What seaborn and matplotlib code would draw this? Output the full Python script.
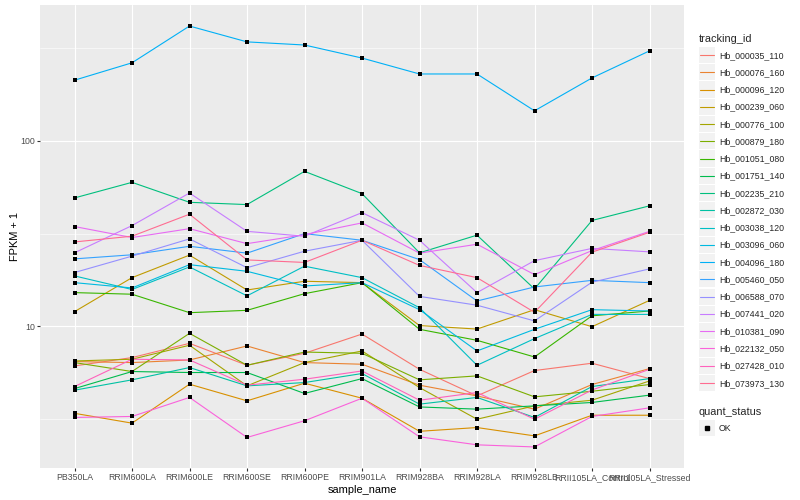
import pandas as pd
import matplotlib
matplotlib.use('Agg')
import matplotlib.pyplot as plt
import matplotlib.ticker as mticker
import numpy as np
import seaborn as sns
from matplotlib.legend_handler import HandlerBase
from matplotlib.patches import Rectangle
from matplotlib.lines import Line2D

# Style: ggplot-like grey panel
sns.set_theme(style='darkgrid', rc={'axes.facecolor': '#EBEBEB', 'grid.color': 'white'})
plt.rcParams['font.family'] = ['Liberation Sans', 'DejaVu Sans']

# Data (FPKM + 1)
samples = ['PB350LA', 'RRIM600LA', 'RRIM600LE', 'RRIM600SE', 'RRIM600PE', 'RRIM901LA',
           'RRIM928BA', 'RRIM928LA', 'RRIM928LB', 'RRII105LA_Control', 'RRII105LA_Stressed']

tracking_ids = ['Hb_000035_110', 'Hb_000076_160', 'Hb_000096_120', 'Hb_000239_060',
                'Hb_000776_100', 'Hb_000879_180', 'Hb_001051_080', 'Hb_001751_140',
                'Hb_002235_210', 'Hb_002872_030', 'Hb_003038_120', 'Hb_003096_060',
                'Hb_004096_180', 'Hb_005460_050', 'Hb_006588_070', 'Hb_007441_020',
                'Hb_010381_090', 'Hb_022132_050', 'Hb_027428_010', 'Hb_073973_130']

hb_000035_110 = [6.12, 6.79, 8.10, 6.17, 7.16, 9.09, 5.87, 4.22, 5.78, 6.33, 5.23]
hb_000076_160 = [6.46, 6.38, 6.59, 7.84, 6.38, 6.25, 4.82, 4.22, 3.58, 4.86, 5.92]
hb_000096_120 = [3.40, 3.01, 4.88, 3.97, 4.94, 4.10, 2.72, 2.85, 2.57, 3.32, 3.32]
hb_000239_060 = [12.0, 18.3, 24.2, 15.7, 17.5, 17.2, 10.1, 9.67, 12.3, 9.96, 13.8]
hb_000776_100 = [6.51, 6.65, 7.91, 4.78, 6.38, 7.37, 4.68, 3.16, 3.73, 4.00, 5.08]
hb_000879_180 = [6.38, 5.71, 9.17, 6.17, 7.27, 7.16, 5.15, 5.41, 4.17, 4.47, 4.86]
hb_001051_080 = [15.2, 14.9, 11.85, 12.2, 15.0, 17.2, 9.64, 8.41, 6.84, 11.4, 12.1]
hb_001751_140 = [4.62, 5.71, 5.64, 5.64, 4.35, 5.23, 3.68, 3.58, 3.73, 3.89, 4.26]
hb_002235_210 = [49.2, 59.7, 46.6, 45.3, 68.4, 51.9, 24.9, 31.0, 15.9, 37.2, 44.6]
hb_002872_030 = [4.53, 5.15, 6.00, 4.78, 4.98, 5.57, 3.81, 4.14, 3.23, 4.74, 5.23]
hb_003038_120 = [18.7, 15.8, 20.9, 14.6, 21.1, 18.3, 12.6, 6.17, 8.59, 11.6, 11.6]
hb_003096_060 = [17.2, 16.1, 21.5, 19.8, 16.5, 17.2, 12.3, 7.37, 9.64, 12.3, 12.1]
hb_004096_180 = [212, 263, 415, 341, 328, 279, 229, 229, 145, 218, 305]
hb_005460_050 = [23.1, 24.3, 27.0, 24.8, 31.6, 29.1, 22.9, 13.7, 16.3, 17.7, 17.2]
hb_006588_070 = [19.5, 23.9, 29.6, 20.7, 25.4, 29.1, 14.5, 13.0, 10.7, 17.3, 20.4]
hb_007441_020 = [24.9, 34.9, 52.3, 32.5, 30.6, 41.0, 29.1, 15.2, 22.6, 26.3, 25.2]
hb_010381_090 = [34.5, 30.1, 33.6, 27.9, 31.2, 36.1, 24.8, 27.7, 19.0, 25.6, 32.5]
hb_022132_050 = [3.23, 3.27, 4.14, 2.52, 3.10, 4.10, 2.54, 2.30, 2.24, 3.27, 3.64]
hb_027428_010 = [4.74, 6.65, 6.59, 4.82, 5.19, 5.75, 4.00, 4.40, 3.16, 4.54, 5.87]
hb_073973_130 = [28.5, 30.6, 40.2, 22.8, 22.1, 29.1, 21.3, 18.3, 11.9, 25.1, 32.1]

series = [hb_000035_110, hb_000076_160, hb_000096_120, hb_000239_060, hb_000776_100,
          hb_000879_180, hb_001051_080, hb_001751_140, hb_002235_210, hb_002872_030,
          hb_003038_120, hb_003096_060, hb_004096_180, hb_005460_050, hb_006588_070,
          hb_007441_020, hb_010381_090, hb_022132_050, hb_027428_010, hb_073973_130]

quant_status = ['OK']

# ggplot default hue palette for 20 levels
colors = ['#F8766D', '#EA8331', '#D89000', '#C09B00', '#A3A500', '#7CAE00', '#39B600',
          '#00BB4E', '#00BF7D', '#00C1A3', '#00BFC4', '#00BAE0', '#00B0F6', '#35A2FF',
          '#9590FF', '#C77CFF', '#E76BF3', '#FA62DB', '#FF62BC', '#FF6C91']

# Long dataframe
rows = []
for tid, vals in zip(tracking_ids, series):
    for s, v in zip(samples, vals):
        rows.append({'tracking_id': tid, 'sample_name': s, 'fpkm1': v, 'quant_status': 'OK'})
df = pd.DataFrame(rows)
df['xpos'] = df['sample_name'].map({s: i for i, s in enumerate(samples)})

fig = plt.figure(figsize=(8, 5), dpi=100)
ax = fig.add_axes([0.05, 0.064, 0.805, 0.926])

sns.lineplot(data=df, x='xpos', y='fpkm1', hue='tracking_id', hue_order=tracking_ids,
             palette=colors, linewidth=0.8, legend=False, sort=False, errorbar=None, ax=ax)
sns.scatterplot(data=df, x='xpos', y='fpkm1', color='black', marker='s', s=9,
                linewidth=0, legend=False, ax=ax, zorder=3)

# Log scale with ggplot-style 5% expansion
ax.set_yscale('log')
lo, hi = np.log10(df['fpkm1'].min()), np.log10(df['fpkm1'].max())
pad = (hi - lo) * 0.05
ax.set_ylim(10 ** (lo - pad), 10 ** (hi + pad))
ax.set_xlim(-0.6, len(samples) - 0.4)

ax.yaxis.set_major_locator(mticker.FixedLocator([10, 100]))
ax.yaxis.set_major_formatter(mticker.FixedFormatter(['10', '100']))
ax.yaxis.set_minor_locator(mticker.FixedLocator([10 ** 0.5, 10 ** 1.5, 10 ** 2.5]))
ax.yaxis.set_minor_formatter(mticker.NullFormatter())
ax.set_xticks(range(len(samples)))
ax.set_xticklabels(samples)

ax.grid(which='major', color='white', linewidth=0.8)
ax.grid(which='minor', axis='y', color='white', linewidth=0.4)
ax.set_axisbelow(True)
for sp in ax.spines.values():
    sp.set_visible(False)

ax.tick_params(axis='both', which='major', length=2, width=0.8, color='#333333',
               labelsize=6.3, labelcolor='#4D4D4D', pad=1.6, bottom=True, left=True)
ax.tick_params(axis='y', which='minor', length=0)

ax.set_xlabel('sample_name', fontsize=7.9, color='black', labelpad=2)
ax.set_ylabel('FPKM + 1', fontsize=7.9, color='black', labelpad=0.5)

LABEL_SPACING = 0.46
LEG_FONT = 6.3


# Legend keys with grey background like ggplot
class KeyHandler(HandlerBase):
    def create_artists(self, legend, orig_handle, xdescent, ydescent, width, height, fontsize, trans):
        gap = LABEL_SPACING * fontsize
        bg = Rectangle((-xdescent + 0.4, -ydescent - gap / 2 + 0.4), width - 0.8, height + gap - 0.8,
                       facecolor='#F2F2F2', edgecolor='none', transform=trans)
        cy = -ydescent + height / 2
        if orig_handle.get_linestyle() not in ('None', '', ' '):
            ln = Line2D([-xdescent + 1.2, -xdescent + width - 1.2], [cy, cy],
                        color=orig_handle.get_color(), linewidth=0.8, transform=trans)
        else:
            ln = Line2D([-xdescent + width / 2], [cy], marker='s', markersize=2.8,
                        color='black', linestyle='None', transform=trans)
        return [bg, ln]


line_handles = [Line2D([], [], color=c) for c in colors]
leg1 = fig.legend(line_handles, tracking_ids, loc='upper left', bbox_to_anchor=(0.868, 0.94),
                  frameon=False, fontsize=LEG_FONT, title='tracking_id', title_fontsize=7.9,
                  handler_map={Line2D: KeyHandler()}, handlelength=1.95, handleheight=1.95,
                  labelspacing=LABEL_SPACING, handletextpad=0.35, borderpad=0, alignment='left')

point_handles = [Line2D([], [], marker='s', color='black', linestyle='None')]
leg2 = fig.legend(point_handles, quant_status, loc='upper left', bbox_to_anchor=(0.868, 0.194),
                  frameon=False, fontsize=LEG_FONT, title='quant_status', title_fontsize=7.9,
                  handler_map={Line2D: KeyHandler()}, handlelength=1.95, handleheight=1.95,
                  labelspacing=LABEL_SPACING, handletextpad=0.35, borderpad=0, alignment='left')

fig.savefig('out.png', dpi=100)
